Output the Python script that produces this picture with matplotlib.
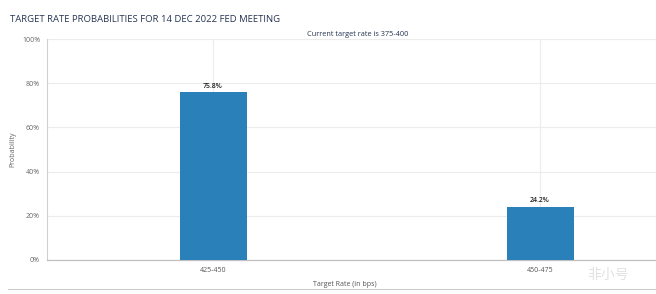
import matplotlib
matplotlib.use("Agg")
import matplotlib.pyplot as plt
from matplotlib.lines import Line2D

# data
rates = ["425-450", "450-475"]
probs = [75.8, 24.2]
yticks = [0, 20, 40, 60, 80, 100]

W, H = 656, 294
fig = plt.figure(figsize=(W / 100, H / 100), dpi=100, facecolor="white")
plt.rcParams["font.family"] = ["Open Sans", "DejaVu Sans"]

# plot area in pixels: left 47, top 39, bottom 260, right edge of image
ax = fig.add_axes([47 / W, 1 - 260 / H, (W - 47) / W, (260 - 39) / H])

cat_w = 327.0  # px per category, first category centred at x=213
ax.set_xlim((47 - 213) / cat_w, (W - 213) / cat_w)
ax.set_ylim(0, 100)

ax.bar(range(len(rates)), probs, width=67 / cat_w, color="#2a80b9", zorder=3)
for i, p in enumerate(probs):
    ax.text(i, p + 1.2, "%.1f%%" % p, ha="center", va="bottom", fontsize=5,
            color="#222222", fontweight="semibold")

ax.set_yticks(yticks)
ax.set_yticklabels(["%d%%" % v for v in yticks], fontsize=5, color="#666666")
ax.set_xticks(range(len(rates)))
ax.set_xticklabels(rates, fontsize=5, color="#555555")
ax.tick_params(axis="both", length=0, pad=5)

ax.grid(True, color="#ececec", linewidth=0.8, zorder=0)
for s in ["top", "right"]:
    ax.spines[s].set_visible(False)
ax.spines["left"].set_color("#d0d0d0")
ax.spines["left"].set_linewidth(0.8)
ax.spines["bottom"].set_color("#c0c0c0")
ax.spines["bottom"].set_linewidth(0.9)

ax.set_ylabel("Probability", fontsize=5, color="#666666", labelpad=4)
fig.text(345 / W, 1 - 284 / H, "Target Rate (in bps)", fontsize=5, color="#555555",
         ha="center", va="center")

fig.text(10 / W, 1 - 19 / H, "TARGET RATE PROBABILITIES FOR 14 DEC 2022 FED MEETING",
         fontsize=6.8, color="#253452", ha="left", va="center")
fig.text(358 / W, 1 - 34 / H, "Current target rate is 375-400", fontsize=5.3,
         color="#253452", ha="center", va="center")

fig.add_artist(Line2D([8 / W, 1], [1 - 289 / H, 1 - 289 / H], color="#cccccc",
                      linewidth=0.8, transform=fig.transFigure))

fig.text(608 / W, 1 - 275 / H, "非小号", fontsize=10, color="#e2e2e2",
         ha="center", va="center", family=["Noto Sans CJK SC", "DejaVu Sans"])

fig.savefig("out.png", dpi=100, facecolor="white")
